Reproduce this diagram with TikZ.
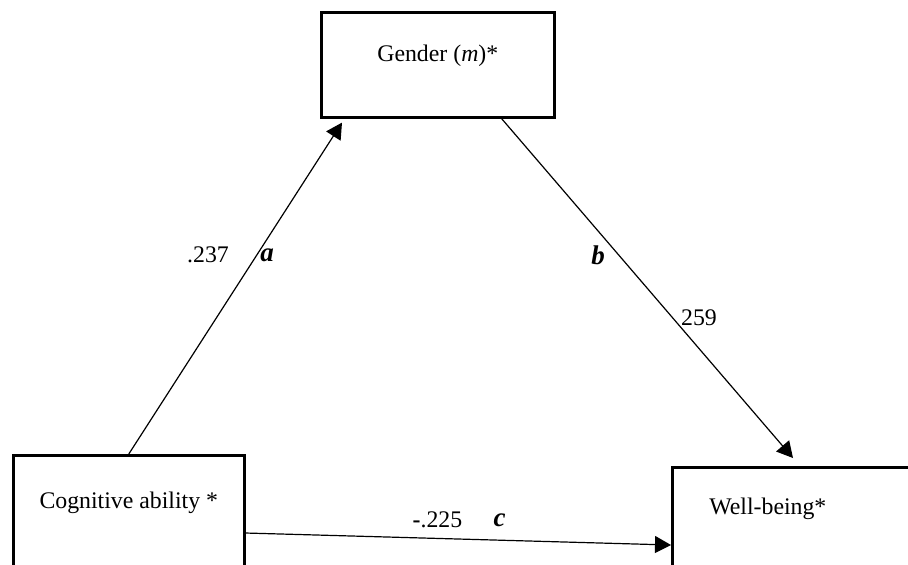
\documentclass[tikz,border=0pt]{standalone}
\usepackage{fontspec}
\setmainfont{Liberation Serif}
\usetikzlibrary{arrows.meta}
\usetikzlibrary{positioning}

\begin{document}
\begin{tikzpicture}[x=0.5pt, y=-0.5pt, ->, >={Triangle[length=8pt,width=8.5pt]}, semithick, font=\fontsize{11.9pt}{14pt}\selectfont]
\tikzstyle{box} = [draw=black, line width=1.3pt, inner sep=0pt, anchor=north west]
\tikzstyle{coef} = [font=\fontsize{13.5pt}{16pt}\selectfont\bfseries\itshape]

\useasboundingbox (0,0) rectangle (908,564);
\clip (0,0) rectangle (908,564);

\node[box, minimum width=116.5pt, text height=24.5pt, text depth=28pt] (gen) at (320,11) {Gender (\textit{m})*};
\node[box, minimum width=115.5pt, text height=26.5pt, text depth=46pt] (cog) at (12,454) {Cognitive ability *};
\node[box, text width=97.5pt, align=left, inner xsep=18.5pt, text height=23.6pt, text depth=40pt] (wb) at (671,466) {Well-being*};

\coordinate (atip) at ([xshift=11pt, yshift=-2pt]gen.south west);
\coordinate (btip) at ([xshift=61pt, yshift=4pt]wb.north west);

\node (pa) at (208,255) {.237};
\node[coef] (la) at (267,255) {a};
\node[coef] (lb) at (598,255) {b};
\node (pb) at (699,318) {259};
\node (pc) at (437.5,520) {\textbf{-}.225};
\node[coef] (lc) at (499.5,520) {c};

\path (cog.north) edge (atip)
	([xshift=-27pt]gen.south east) edge (btip)
	([yshift=-39.5pt]cog.north east) edge ([yshift=-39.5pt]wb.north west)
	;

\end{tikzpicture}
\end{document}
